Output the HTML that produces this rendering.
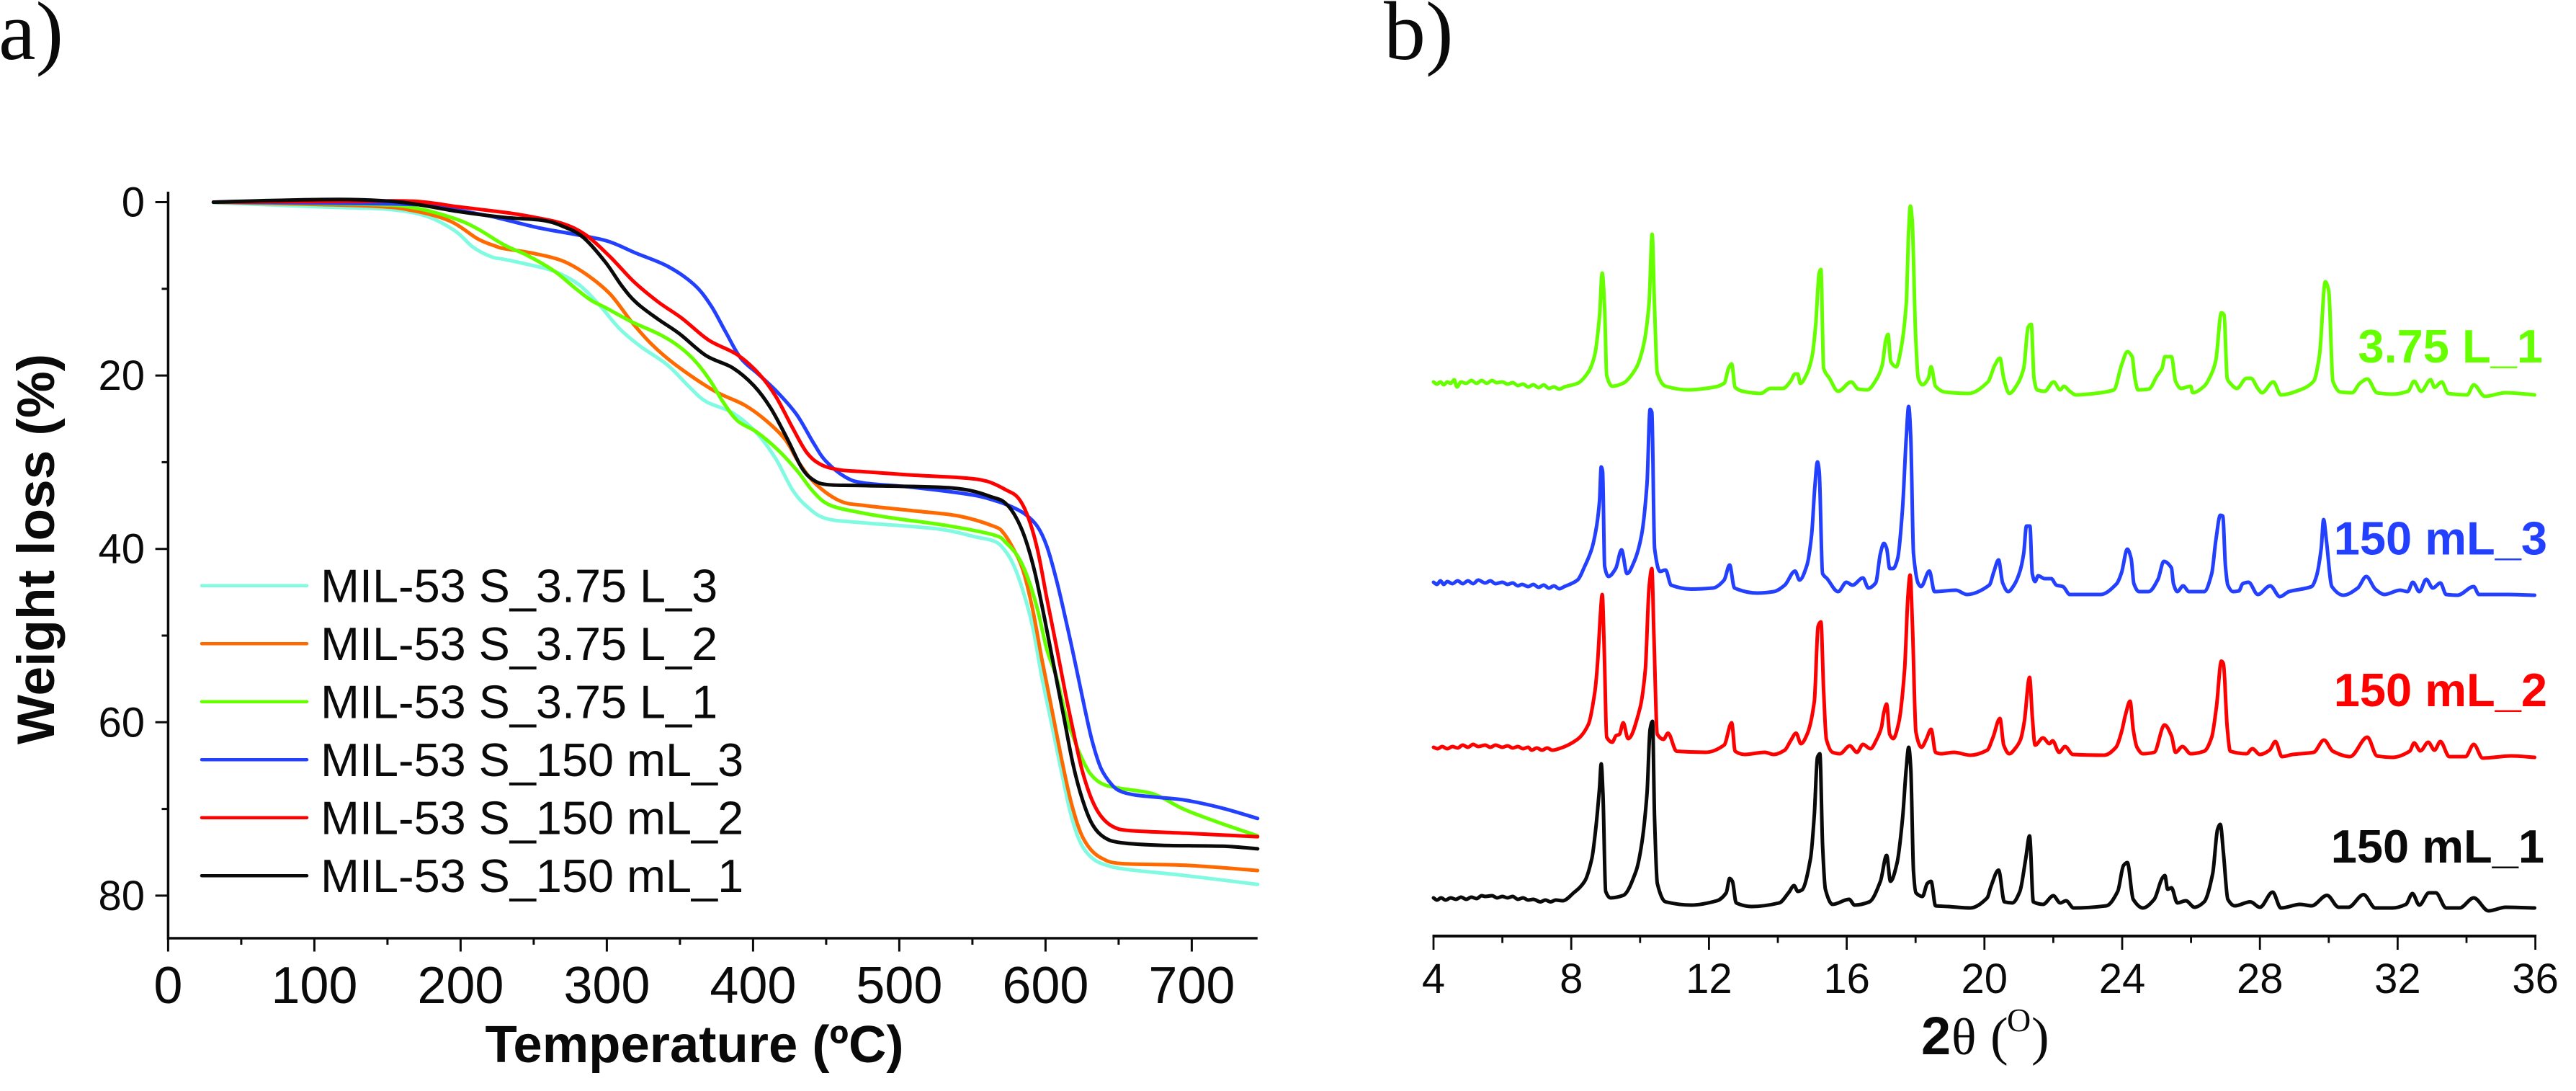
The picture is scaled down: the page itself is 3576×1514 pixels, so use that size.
<!DOCTYPE html>
<html lang="en">
<head>
<meta charset="utf-8">
<title>MIL-53 TGA and XRD</title>
<style>
html,body{margin:0;padding:0;background:#fff;}
svg{display:block;}
text{font-family:"Liberation Sans",sans-serif;fill:#0a0a0a;}
.serif{font-family:"Liberation Serif",serif;}
</style>
</head>
<body>
<svg id="chart" width="3576" height="1514" viewBox="0 0 3576 1514" xmlns="http://www.w3.org/2000/svg">
  <rect width="3576" height="1514" fill="#ffffff"/>
  <text class="serif" x="-2" y="82" font-size="116">a)</text>
  <text class="serif" x="1921" y="82" font-size="116">b)</text>

  <g id="tga">
    <g id="tga-axes"></g>
    <g id="tga-curves"></g>
    <g id="tga-legend"></g>
    <text x="75" y="762" transform="rotate(-90 75 762)" text-anchor="middle" font-size="73" font-weight="bold">Weight loss (%)</text>
    <text x="964" y="1474" text-anchor="middle" font-size="72.5" font-weight="bold">Temperature (ºC)</text>
  </g>

  <g id="xrd">
    <g id="xrd-axes"></g>
    <g id="xrd-curves"></g>
    <g id="xrd-labels"></g>
    <g>
      <text x="2667" y="1463" font-size="74" font-weight="bold">2</text>
      <text class="serif" x="2709" y="1463" font-size="72">θ</text>
      <text class="serif" x="2763" y="1463" font-size="74">(</text>
      <text class="serif" x="2786" y="1431" font-size="46">O</text>
      <text class="serif" x="2820" y="1463" font-size="74">)</text>
    </g>
  </g>
</svg>

<script>
/* ---------- TGA data (temperature in ºC, weight loss in %) ---------- */
const tgaXTicks = [0, 100, 200, 300, 400, 500, 600, 700];
const tgaXMinorTicks = [50, 150, 250, 350, 450, 550, 650];
const tgaYTicks = [0, 20, 40, 60, 80];
const tgaYMinorTicks = [10, 30, 50, 70];
const legendLabels = ["MIL-53 S_3.75 L_3", "MIL-53 S_3.75 L_2", "MIL-53 S_3.75 L_1", "MIL-53 S_150 mL_3", "MIL-53 S_150 mL_2", "MIL-53 S_150 mL_1"];

const tempCyan = [31,105,152,177,196,208.6,221,229.9,246.3,264.4,280.8,295.6,308.7,323.5,341.6,356.3,367.8,385.9,402.3,415.5,427,436.8,450,476.2,526.4,551.8,564.8,571.4,578,584.5,591.1,597.6,604.2,610.8,617.3,623.9,632.1,642,656.8,696.2,745];
const lossCyan = [0.05,0.55,0.85,1.65,3.3,5.2,6.3,6.6,7.2,8,9.5,12,14.6,16.7,18.8,21.3,23,24.3,26.6,29.6,33.2,35.1,36.5,37,37.7,38.6,39.1,40,41.8,44.8,48.9,54.9,60.2,65.6,70.6,73.9,75.7,76.5,77,77.7,78.7];

const tempOrange = [31,136,168,193,211.8,224.3,229.9,249.6,269.3,285.7,302.2,316.9,330.1,346.5,372.8,394.1,408.9,422,431.9,443.4,459.8,476.2,509.4,540.5,564.8,571.4,578,584.5,591.1,597.6,604.2,610.8,617.3,623.9,630.5,638.7,651.8,696.2,745];
const lossOrange = [0,0.43,1,2.2,4.25,5.1,5.36,5.9,6.75,8.3,10.6,13.8,16.3,18.7,21.7,23.4,25.2,27.4,30.2,32.6,34.5,35,35.6,36.2,37.4,38.2,40,42.4,46.9,52.8,58.4,64.1,69.1,72.7,74.6,75.7,76.3,76.5,77.1];

const tempGreen = [31,136,168,196,211.8,229.9,246.3,264.4,277.5,289,298.9,316.9,336.6,349.8,361.3,371.1,379.3,389.2,402.3,417.1,430.2,441.7,453.2,476.2,498,532,564.8,573,581.2,587.8,594.4,600.9,607.5,614,619,623.9,630.5,638.7,650.2,669.9,679.7,692.9,706,722.4,745];
const lossGreen = [0,0.25,0.65,1.9,3.1,4.95,6.2,8,9.8,11.3,12.15,13.8,15.3,16.7,18.5,20.7,23,25.2,26.5,28.6,31,33.5,35,35.9,36.5,37.3,38.4,39.3,40.9,43.3,46.9,51.6,54.8,59.3,61.7,63.8,65.9,67.1,67.6,68.1,68.7,69.9,70.8,71.8,73.1];

const tempBlue = [31,152,183.6,218,229.9,254.5,277.5,300.5,320.2,341.6,359.6,371.1,381,391.6,404,417.1,430.2,441.7,449.9,463,476.2,509.4,549,564.8,576.3,586.1,594.4,600.9,607.5,614,620.6,627.2,632.1,637.9,645.3,651.8,661.7,679.7,696.2,720.8,745];
const lossBlue = [0,0.2,0.55,1.55,2,3,3.7,4.5,5.9,7.4,9.5,11.9,14.9,18,19.9,22,24.6,27.9,29.9,31.7,32.4,32.9,33.75,34.4,35.1,36,37.4,39.7,43.6,48.3,53.4,58.7,62.3,65.3,67.2,68,68.4,68.7,69,69.9,71.1];

const tempRed = [31,124,168,199,230.6,246.3,269.3,285.7,302.2,318.6,335,351.4,369.5,389.2,404,415.5,426.9,436.8,446.7,459.8,476.2,509.4,543.3,560,573,581.2,587.8,594.4,600.9,607.5,614,620.6,625.6,632.1,638.7,646.9,658.4,696.2,745];
const lossRed = [0,-0.1,-0.1,0.55,1.2,1.62,2.45,3.8,6.3,9.2,11.5,13.4,15.9,17.6,19.8,22.4,26,28.9,30.3,30.9,31.1,31.5,31.8,32.2,33.2,34.1,36.2,40,45.7,51.3,57,62.3,65.9,69.1,71,72.1,72.5,72.8,73.2];

const tempBlack = [31,73.5,124,161.5,199,229.9,256.2,271,284.1,298.9,310.4,320.2,335,349.8,367.8,385.9,400.7,412.2,423.7,433.5,441.7,451.6,476.2,537.7,564.8,573,579.6,586.1,592.7,599.3,605.9,612.4,619,625.6,632.1,640.3,651.8,679.7,720.8,745];
const lossBlack = [0,-0.2,-0.3,0.05,1.1,1.76,2.1,2.87,4.1,6.9,9.7,11.6,13.5,15.2,17.7,19.1,21.2,23.8,27.4,30.7,32.1,32.6,32.7,33,34.1,34.8,36.3,38.8,42.7,48,53.7,59.3,65,69.1,71.8,73.3,73.9,74.2,74.3,74.6];

/* ---------- XRD data (2θ in degrees, stacked intensity in a.u.) ---------- */
const xrdTicks = [4, 8, 12, 16, 20, 24, 28, 32, 36];
const xrdMinorTicks = [6, 10, 14, 18, 22, 26, 30, 34];
const xrdLabels = ["3.75 L_1", "150 mL_3", "150 mL_2", "150 mL_1"];

const thetaGreen = [4,4.1,4.2,4.3,4.4,4.5,4.6,4.68,4.8,4.95,5.1,5.25,5.4,5.55,5.7,5.83,6,6.15,6.3,6.45,6.6,6.75,6.9,7.05,7.2,7.35,7.5,7.65,7.8,8.18,8.5,8.68,8.82,8.9,8.97,9.03,9.19,9.5,9.88,10.1,10.26,10.35,10.42,10.5,10.74,11.4,12.12,12.44,12.57,12.66,12.76,12.98,13.5,13.78,14.15,14.37,14.5,14.58,14.65,14.85,15,15.1,15.2,15.25,15.33,15.5,15.75,16.13,16.34,16.6,16.88,17.03,17.14,17.2,17.28,17.44,17.57,17.73,17.8,17.85,17.9,18,18.08,18.2,18.37,18.45,18.58,18.85,19.54,20.1,20.3,20.45,20.56,20.72,20.97,21.14,21.27,21.36,21.44,21.53,21.75,22.01,22.2,22.31,22.48,22.65,23.37,23.76,23.98,24.15,24.29,24.37,24.46,24.77,25.02,25.16,25.24,25.43,25.55,25.71,25.99,26.05,26.38,26.6,26.72,26.88,26.96,27.05,27.14,27.33,27.61,27.74,27.94,28.06,28.39,28.61,29.17,29.56,29.73,29.9,30,30.12,30.34,30.68,30.9,31.12,31.4,31.85,32.3,32.48,32.68,32.96,33.07,33.28,33.47,34.02,34.21,34.53,35.14,35.98];
const intensityGreen = [76.9,76.6,76.9,76.5,76.9,76.7,77.2,76.2,76.9,76.7,77.1,76.7,77.1,76.7,77.1,76.8,76.9,76.6,76.8,76.4,76.6,76.2,76.5,76.1,76.5,76,76.2,75.9,76.2,76.7,78.3,80.6,86,92,87,77.8,76.3,76.7,78.8,82,87.8,97.4,87,78.1,76.3,75.8,76.15,76.7,78.8,79.4,76.15,75.6,75.3,76,76,77,78,78,76.7,78.1,80.6,84.9,92,92.5,78.8,77.4,75.6,76.9,75.9,75.8,77.4,79.2,82.8,83.5,79.7,79,81.3,87.8,97.8,101.3,99.5,83.5,77.4,76.5,77.4,79,76.3,75.5,75.3,76.9,79.2,80.2,77.4,75.3,76.7,78.8,84.5,84.9,77.4,75.8,75.6,76.9,75.8,76.3,75.6,75.1,75.4,75.8,79.2,81.1,80.4,77.4,75.8,75.9,77.8,78.8,80.4,80.4,77,76,76.3,75.4,76.3,78.1,79.9,86.5,86.2,77.4,76.7,76,77.4,77.4,76,75.4,76.9,75.1,75.8,77,80.6,90.8,89.5,77,75.5,75.4,76.7,77.3,75.4,75.2,75.6,77,75.6,77.2,76.15,76.9,75.3,75.1,76.5,74.9,75.4,75.1];

const thetaBlue = [4,4.1,4.2,4.3,4.4,4.55,4.7,4.85,5,5.15,5.3,5.5,5.65,5.8,6,6.15,6.3,6.45,6.57,6.75,6.9,7.05,7.2,7.35,7.5,7.65,7.8,8.18,8.39,8.6,8.74,8.82,8.87,8.91,8.97,9.08,9.29,9.46,9.62,9.83,10.04,10.2,10.29,10.34,10.42,10.58,10.74,10.9,11.48,12.12,12.44,12.6,12.74,13.4,13.88,14.2,14.5,14.63,14.84,14.98,15.07,15.15,15.2,15.3,15.43,15.75,15.99,16.17,16.47,16.63,16.84,16.98,17.08,17.16,17.25,17.35,17.48,17.62,17.73,17.8,17.86,17.94,18.08,18.16,18.4,18.55,19.17,19.49,20.14,20.27,20.41,20.53,20.69,20.86,21.03,21.14,21.22,21.32,21.39,21.47,21.56,21.75,21.94,22.09,22.28,22.48,23.37,23.84,23.98,24.15,24.26,24.34,24.49,24.77,25.04,25.21,25.43,25.49,25.6,25.77,25.94,26.38,26.6,26.72,26.85,26.92,27,27.07,27.22,27.39,27.5,27.67,27.94,28.3,28.58,28.84,29.5,29.64,29.78,29.85,29.93,30.09,30.42,30.84,31.09,31.35,31.62,32.07,32.29,32.44,32.63,32.83,33.02,33.24,33.41,33.74,34.21,34.36,35.2,35.98];
const intensityBlue = [49.1,48.8,49.3,48.8,49.2,48.9,49.3,48.9,49.3,48.9,49.4,49,49.3,48.9,49.1,48.8,49,48.6,48.8,48.5,48.8,48.4,48.7,48.3,48.6,48.2,48.5,49.4,51.3,53.8,57,60.3,65.1,64.5,51.3,49.9,51,53.6,50.3,52,55.6,62.8,73.1,72.7,53.8,50.6,50.8,48.7,48.15,48.3,49.4,51.5,48.3,47.6,47.8,48.7,50.65,49.4,51.4,55.6,62,65.8,64.5,50.3,49.6,47.8,49.1,48.7,49.7,48.3,49,53.1,54.5,53.8,51,51,52.4,59.2,69.2,73.5,69.2,53.1,48.9,48.5,50.65,47.8,48,47.4,48.7,50.5,52.2,49,47.8,48.7,50.6,53.1,56.9,56.9,50.3,49.2,50,49.6,49.6,48.7,48.5,47.4,47.4,48.9,50.4,53.7,52.4,48.9,47.8,47.8,49.5,52,51.1,48.9,47.8,48.6,47.8,47.8,50.3,54.9,58.4,58.3,51.3,48.7,47.8,47.9,48.9,49.1,47.4,48.6,47.1,47.8,48.5,49.9,53.8,57.8,54.9,48.5,47.3,48.3,49.9,48.15,47.4,48,47.8,49.1,47.8,49.5,48.3,49,47.4,47.3,48.5,47.4,47.4,47.3];

const thetaRed = [4,4.12,4.25,4.4,4.55,4.7,4.85,5,5.15,5.3,5.5,5.65,5.8,6,6.15,6.3,6.45,6.6,6.75,6.85,7,7.15,7.3,7.45,7.64,8.18,8.5,8.68,8.76,8.85,8.9,8.96,9.03,9.19,9.3,9.4,9.51,9.65,9.99,10.15,10.26,10.34,10.4,10.5,10.68,10.81,11.06,11.91,12.44,12.66,12.76,13.03,13.62,13.88,14.2,14.37,14.53,14.67,14.85,15.06,15.17,15.25,15.33,15.41,15.59,15.8,16.09,16.3,16.47,16.69,16.87,17.01,17.07,17.16,17.25,17.35,17.51,17.68,17.78,17.84,17.91,18.01,18.17,18.31,18.45,18.58,18.74,19.11,19.59,20.08,20.25,20.45,20.56,20.72,20.92,21.05,21.16,21.31,21.39,21.47,21.7,21.89,21.98,22.17,22.34,22.57,23.48,23.82,23.98,24.1,24.23,24.32,24.43,24.6,24.93,25.23,25.43,25.55,25.75,25.99,26.38,26.6,26.74,26.88,26.94,27.05,27.14,27.61,27.78,28,28.28,28.45,28.64,28.95,29.56,29.86,30.12,30.62,31.12,31.4,31.85,32.35,32.48,32.66,32.89,33.07,33.24,33.5,33.97,34.21,34.47,35.3,35.98];
const intensityRed = [26.2,26,26.3,26,26.3,26.1,26.5,26.2,26.6,26.3,26.5,26.2,26.5,26.2,26.4,26.1,26.3,26,26.2,25.8,26.1,25.8,26.1,25.8,26,27.3,29.4,33.7,37.6,44.8,47.4,39.4,27.6,26.9,27.8,28,29.6,27.4,31.5,36.9,48.3,51,41.9,28,27.3,28.15,25.65,25.5,26.5,29.6,25.65,25.2,25.5,25.2,25.8,27.1,28.15,26.7,28,32.6,43,43.6,34,27.3,25.5,25.3,26.4,25.5,26.6,26,27.3,29,30.8,32.2,28,27.4,29.6,36.9,47.3,50.1,43,28.3,26.2,27.3,28.7,25.5,25.3,25.5,25.1,25.8,27.6,30.2,26.5,25.3,26.2,27.3,29.8,35.9,30.5,26.5,27.5,26.7,27.1,25.5,26.3,25.2,25.1,26.2,28.3,30.8,32.6,28.7,26.2,25.3,25.5,29.3,27.8,25.5,26.3,25.3,25.65,27.6,31.9,38.15,37.8,29,25.65,25.3,26,25.2,25.8,27,24.9,25.2,25.5,27.2,25.65,24.9,27.6,25,24.8,25.65,26.8,25.7,26.9,25.8,27,24.9,24.9,26.6,24.7,25,24.8];

const thetaBlack = [4,4.1,4.22,4.35,4.5,4.65,4.8,4.95,5.1,5.25,5.4,5.5,5.7,5.85,6,6.15,6.3,6.45,6.6,6.75,6.9,7.1,7.25,7.4,7.55,7.75,8.07,8.39,8.6,8.71,8.82,8.87,8.92,9,9.14,9.51,9.88,10.04,10.2,10.29,10.36,10.42,10.5,10.74,11.48,12.23,12.5,12.6,12.68,12.79,13.24,14.04,14.31,14.47,14.58,14.7,14.95,15.06,15.15,15.22,15.3,15.38,15.59,16.07,16.23,16.66,16.98,17.16,17.27,17.46,17.62,17.73,17.8,17.86,17.94,18.01,18.2,18.34,18.45,18.58,18.95,19.59,20.08,20.19,20.41,20.58,20.81,21.03,21.2,21.31,21.42,21.7,22,22.2,22.37,22.59,23.54,23.87,24.04,24.15,24.32,24.6,24.93,25.16,25.24,25.32,25.43,25.6,25.85,26.1,26.38,26.63,26.77,26.85,26.94,27.07,27.27,27.72,28,28.37,28.61,29.17,29.5,29.95,30.29,30.57,31.01,31.35,31.85,32.24,32.43,32.63,32.91,33.11,33.41,33.8,34.21,34.64,35.14,35.98];
const intensityBlack = [5.3,5,5.3,5,5.3,5.1,5.4,5.1,5.4,5.2,5.6,5.5,5.6,5.3,5.5,5.3,5.5,5.1,5.3,5,5.1,4.75,5,4.75,5,4.9,6,7.6,10.8,14.8,20.5,23.9,19.8,6.2,5.3,5.65,9,12.6,19.8,28.7,29.8,16.2,7.3,4.75,4.3,4.9,6,8,7.6,4.6,4.1,4.6,6,7,6.2,6.4,10.8,16.9,24.8,25.3,12.6,6.5,4.4,5.1,4.3,4.75,7.6,11.2,7.6,10.1,16.2,23.3,26.2,23.3,9,6,5.5,7.3,7.6,4.2,4.1,3.9,5.3,6.9,9.15,4.75,4.6,6.2,10.8,13.9,4.75,4.4,5.6,4.6,4.9,3.9,4.2,6.2,9.8,10.2,5.1,3.9,5.1,8,8.4,6.5,6.7,4.6,4.9,4,4.75,8.7,14.8,15.5,11.6,5.1,4.2,4.75,4,6.1,3.9,4.4,4.2,5.65,4,4,5.75,3.9,3.9,4.4,5.9,4.3,6,6,3.9,3.9,5.3,3.5,4,3.9];

/* ---------- axis functions ---------- */
function tgaX(t) { return 233.4 + t * 2.03; }
function tgaY(w) { return 280.5 + w * 12.03; }
function xrdX(a) { return 1990 + (a - 4) * 47.8; }
function xrdY(i) { return 1299 - i * 10; }

const NS = "http://www.w3.org/2000/svg";
function make(tag, parent, props) {
  const el = document.createElementNS(NS, tag);
  for (const k in props) { el.setAttribute(k, props[k]); }
  parent.appendChild(el);
  return el;
}
function smoothPath(xs, ys) {
  const p = xs.map(function (x, i) { return [x, ys[i]]; });
  let d = "M" + p[0][0].toFixed(1) + " " + p[0][1].toFixed(1);
  for (let i = 0; i < p.length - 1; i++) {
    const a = p[Math.max(i - 1, 0)], b = p[i], c = p[i + 1], e = p[Math.min(i + 2, p.length - 1)];
    const c1x = b[0] + (c[0] - a[0]) / 6, c1y = b[1] + (c[1] - a[1]) / 6;
    const c2x = c[0] - (e[0] - b[0]) / 6, c2y = c[1] - (e[1] - b[1]) / 6;
    d += "C" + c1x.toFixed(1) + " " + c1y.toFixed(1) + " " + c2x.toFixed(1) + " " + c2y.toFixed(1) + " " + c[0].toFixed(1) + " " + c[1].toFixed(1);
  }
  return d;
}
/* monotone cubic: passes through every reading with no overshoot at the sharp peaks */
function monotonePath(xs, ys) {
  const n = xs.length;
  const slopes = [];
  for (let i = 0; i < n - 1; i++) { slopes.push((ys[i + 1] - ys[i]) / (xs[i + 1] - xs[i])); }
  const tang = [slopes[0]];
  for (let i = 1; i < n - 1; i++) {
    const a = slopes[i - 1], b = slopes[i];
    tang.push(a * b <= 0 ? 0 : 2 * a * b / (a + b));
  }
  tang.push(slopes[n - 2]);
  let d = "M" + xs[0].toFixed(1) + " " + ys[0].toFixed(1);
  for (let i = 0; i < n - 1; i++) {
    const h = (xs[i + 1] - xs[i]) / 3;
    d += "C" + (xs[i] + h).toFixed(1) + " " + (ys[i] + tang[i] * h).toFixed(1) + " " + (xs[i + 1] - h).toFixed(1) + " " + (ys[i + 1] - tang[i + 1] * h).toFixed(1) + " " + xs[i + 1].toFixed(1) + " " + ys[i + 1].toFixed(1);
  }
  return d;
}

/* ---------- TGA axes ---------- */
const tgaAxes = document.getElementById("tga-axes");
const INK = "#0a0a0a";

const tgaYLine = make("line", tgaAxes, {x1: tgaX(0), x2: tgaX(0), y1: 266, y2: 1304, stroke: INK, "stroke-width": 3.5});


const tgaXLine = make("line", tgaAxes, {x1: 232, x2: tgaX(745), y1: 1302, y2: 1302, stroke: INK, "stroke-width": 3.5});



tgaXTicks.forEach(function (t) {
  const tick = make("line", tgaAxes, {x1: tgaX(t), x2: tgaX(t), y1: 1302, y2: 1320.5, stroke: INK, "stroke-width": 3});
  
  
  const label = make("text", tgaAxes, {x: tgaX(t), y: 1392, "text-anchor": "middle", "font-size": 72});
  label.textContent = String(t);
  
  
});
tgaXMinorTicks.forEach(function (t) {
  const tick = make("line", tgaAxes, {x1: tgaX(t), x2: tgaX(t), y1: 1302, y2: 1311, stroke: INK, "stroke-width": 3});
  
  
});
tgaYTicks.forEach(function (w) {
  const tick = make("line", tgaAxes, {x1: 215.6, x2: tgaX(0), y1: tgaY(w), y2: tgaY(w), stroke: INK, "stroke-width": 3});
  
  
  const label = make("text", tgaAxes, {x: 201, y: tgaY(w) + 20, "text-anchor": "end", "font-size": 58});
  label.textContent = String(w);
  
  
});
tgaYMinorTicks.forEach(function (w) {
  const tick = make("line", tgaAxes, {x1: 224.5, x2: tgaX(0), y1: tgaY(w), y2: tgaY(w), stroke: INK, "stroke-width": 3});
  
  
});

/* ---------- TGA curves + legend ---------- */
const tgaSeries = [
  {key: "s-3-75-l-3", color: "#80FBE2", x: tempCyan, y: lossCyan},
  {key: "s-3-75-l-2", color: "#FF6A00", x: tempOrange, y: lossOrange},
  {key: "s-3-75-l-1", color: "#66FF00", x: tempGreen, y: lossGreen},
  {key: "s-150-ml-3", color: "#2440FF", x: tempBlue, y: lossBlue},
  {key: "s-150-ml-2", color: "#FF0000", x: tempRed, y: lossRed},
  {key: "s-150-ml-1", color: "#0A0A0A", x: tempBlack, y: lossBlack}
];
const tgaCurves = document.getElementById("tga-curves");
const tgaLegend = document.getElementById("tga-legend");
tgaSeries.forEach(function (s, i) {
  const path = make("path", tgaCurves, {
    d: smoothPath(s.x.map(tgaX), s.y.map(tgaY)),
    fill: "none", stroke: s.color, "stroke-width": 5, "stroke-linecap": "round", "stroke-linejoin": "round"
  });
  
  

  const rowY = 812.7 + i * 80.5;
  const swatch = make("line", tgaLegend, {x1: 280, x2: 426, y1: rowY, y2: rowY, stroke: s.color, "stroke-width": 4.5, "stroke-linecap": "round"});
  
  
  const text = make("text", tgaLegend, {x: 445, y: rowY + 22.8, "font-size": 64.8});
  text.textContent = legendLabels[i];
  
  
});

/* ---------- XRD axes ---------- */
const xrdAxes = document.getElementById("xrd-axes");
const xrdAxisLine = make("line", xrdAxes, {x1: xrdX(4) - 1.5, x2: xrdX(36) + 1.5, y1: 1299, y2: 1299, stroke: INK, "stroke-width": 4});


xrdTicks.forEach(function (a) {
  const tick = make("line", xrdAxes, {x1: xrdX(a), x2: xrdX(a), y1: 1299, y2: 1318, stroke: INK, "stroke-width": 2.8});
  
  
  const label = make("text", xrdAxes, {x: xrdX(a), y: 1378, "text-anchor": "middle", "font-size": 58});
  label.textContent = String(a);
  
  
});
xrdMinorTicks.forEach(function (a) {
  const tick = make("line", xrdAxes, {x1: xrdX(a), x2: xrdX(a), y1: 1299, y2: 1308.6, stroke: INK, "stroke-width": 2.8});
  
  
});

/* ---------- XRD curves + labels ---------- */
const xrdSeries = [
  {key: "3-75-l-1", color: "#66FF00", x: thetaGreen, y: intensityGreen, labelX: 3530, labelY: 503},
  {key: "150-ml-3", color: "#2440FF", x: thetaBlue, y: intensityBlue, labelX: 3536, labelY: 769.6},
  {key: "150-ml-2", color: "#FF0000", x: thetaRed, y: intensityRed, labelX: 3536, labelY: 980},
  {key: "150-ml-1", color: "#0A0A0A", x: thetaBlack, y: intensityBlack, labelX: 3532, labelY: 1197}
];
const xrdCurves = document.getElementById("xrd-curves");
const xrdLabelGroup = document.getElementById("xrd-labels");
xrdSeries.forEach(function (s, i) {
  const path = make("path", xrdCurves, {
    d: monotonePath(s.x.map(xrdX), s.y.map(xrdY)),
    fill: "none", stroke: s.color, "stroke-width": 5, "stroke-linejoin": "round", "stroke-linecap": "round"
  });
  
  
  const text = make("text", xrdLabelGroup, {x: s.labelX, y: s.labelY, "text-anchor": "end", "font-size": 65, "font-weight": "bold", style: "fill:" + s.color});
  text.textContent = xrdLabels[i];
  
  
});
</script>
</body>
</html>
